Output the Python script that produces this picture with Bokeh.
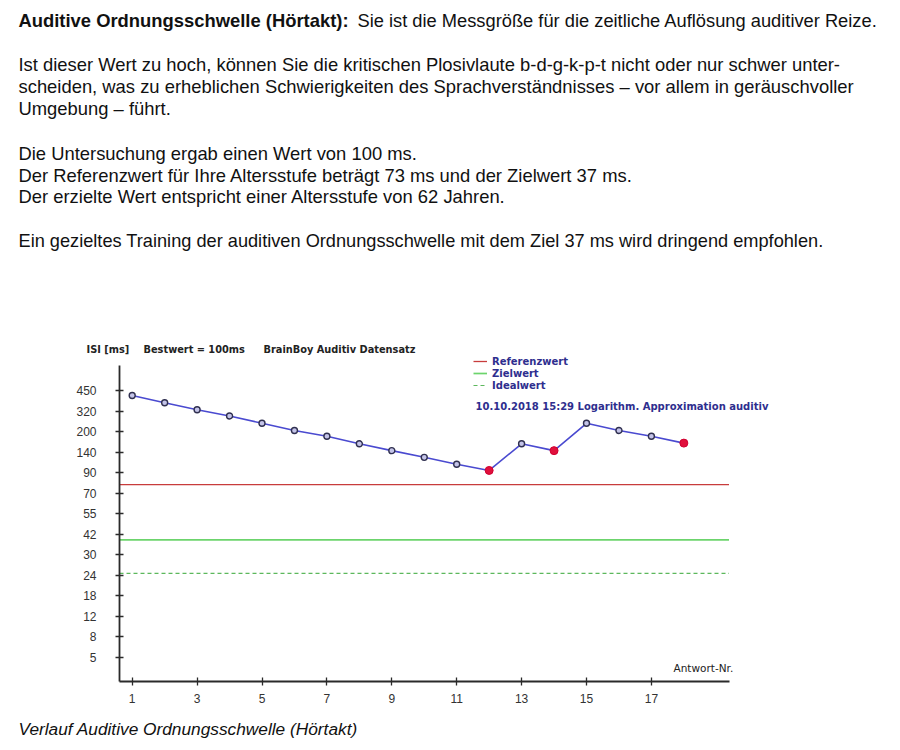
import numpy as np
from bokeh.plotting import figure
from bokeh.models import Range1d, FixedTicker, Label, Legend, LegendItem, LinearAxis
from bokeh.embed import file_html
from bokeh.resources import INLINE

# ---------------- data ----------------
answer_nr = list(range(1, 19))
isi_ms = [418, 372, 328, 291, 248, 206, 186, 164, 144, 127, 110, 95,
          164, 144, 248, 206, 186, 166]
red_answers = [12, 14, 18]
referenz_ms = 78.2
ziel_ms = 38.6
ideal_ms = 24.5
y_tick_ms = [5, 8, 12, 18, 24, 30, 42, 55, 70, 90, 140, 200, 320, 450]
x_ticks = [1, 3, 5, 7, 9, 11, 13, 15, 17]

intro_bold = "Auditive Ordnungsschwelle (Hörtakt):"
intro_rest = "Sie ist die Messgröße für die zeitliche Auflösung auditiver Reize."
paragraph = [
    "Ist dieser Wert zu hoch, können Sie die kritischen Plosivlaute b-d-g-k-p-t nicht oder nur schwer unter-",
    "scheiden, was zu erheblichen Schwierigkeiten des Sprachverständnisses – vor allem in geräuschvoller",
    "Umgebung – führt.",
]
result_lines = [
    "Die Untersuchung ergab einen Wert von 100 ms.",
    "Der Referenzwert für Ihre Altersstufe beträgt 73 ms und der Zielwert 37 ms.",
    "Der erzielte Wert entspricht einer Altersstufe von 62 Jahren.",
]
recommendation = "Ein gezieltes Training der auditiven Ordnungsschwelle mit dem Ziel 37 ms wird dringend empfohlen."
caption = "Verlauf Auditive Ordnungsschwelle (Hörtakt)"
header_texts = ["ISI [ms]", "Bestwert = 100ms", "BrainBoy Auditiv Datensatz"]
legend_labels = ["Referenzwert", "Zielwert", "Idealwert"]
session_text = "10.10.2018 15:29 Logarithm. Approximation auditiv"
x_title = "Antwort-Nr."


# piecewise scale of the original chart: equally spaced labelled ticks
def ypos(ms):
    return np.interp(ms, y_tick_ms, np.arange(len(y_tick_ms)))


# ---------------- geometry (page pixels) ----------------
W, H = 900, 750
AX_X, AX_Y = 119, 681                 # page position of the axis lines
X1_PX, X_STEP = 131.7, 32.45          # answer 1 position, px per answer
Y0_PX, Y_STEP = 656.5, 20.5           # first tick position, px per tick


def xd(px):
    return 1 + (px - X1_PX) / X_STEP


def yd(py):
    return (Y0_PX - py) / Y_STEP


p = figure(width=W, height=H, output_backend="svg", toolbar_location=None,
           x_range=Range1d(xd(0), xd(W)), y_range=Range1d(yd(H), yd(0)),
           min_border=0, x_axis_type=None, y_axis_type=None)
p.outline_line_color = None
p.background_fill_color = "white"
p.border_fill_color = "white"
p.xgrid.visible = False
p.ygrid.visible = False

xb = (xd(AX_X), xd(728.5))
yb = (yd(AX_Y), yd(365))

xaxis = LinearAxis(ticker=FixedTicker(ticks=x_ticks), bounds=xb,
                   fixed_location=yd(AX_Y))
yaxis = LinearAxis(ticker=FixedTicker(ticks=list(range(len(y_tick_ms)))), bounds=yb,
                   fixed_location=xd(AX_X),
                   major_label_overrides={i: str(v) for i, v in enumerate(y_tick_ms)})
for ax in (xaxis, yaxis):
    ax.axis_line_color = "#2a2a2a"
    ax.axis_line_width = 1.8
    ax.major_tick_line_color = "#2a2a2a"
    ax.major_tick_line_width = 1.3
    ax.major_tick_in = 4
    ax.major_tick_out = 4
    ax.minor_tick_line_color = None
    ax.major_label_text_font = "Liberation Sans"
    ax.major_label_text_font_size = "12px"
    ax.major_label_text_color = "#333333"
xaxis.major_label_standoff = 8
yaxis.major_label_standoff = 19
p.add_layout(xaxis, "below")
p.add_layout(yaxis, "left")

# reference lines
r_ref = p.segment(x0=[xb[0]], x1=[xb[1]], y0=[ypos(referenz_ms)], y1=[ypos(referenz_ms)],
                  line_color="#c83c3c", line_width=1.3)
r_ziel = p.segment(x0=[xb[0]], x1=[xb[1]], y0=[ypos(ziel_ms)], y1=[ypos(ziel_ms)],
                   line_color="#6cd46c", line_width=1.7)
r_ideal = p.segment(x0=[xb[0]], x1=[xb[1]], y0=[ypos(ideal_ms)], y1=[ypos(ideal_ms)],
                    line_color="#5cb85c", line_width=1.2, line_dash="4 3")

# data line and markers
yvals = ypos(isi_ms)
p.line(answer_nr, yvals, line_color="#4a4ad0", line_width=1.6)
norm_x = [a for a in answer_nr if a not in red_answers]
norm_y = [ypos(v) for a, v in zip(answer_nr, isi_ms) if a not in red_answers]
red_x = [a for a in answer_nr if a in red_answers]
red_y = [ypos(v) for a, v in zip(answer_nr, isi_ms) if a in red_answers]
p.scatter(norm_x, norm_y, size=6, marker="circle", fill_color="#c4c4e8",
          line_color="#303050", line_width=1.4)
p.scatter(red_x, red_y, size=8, marker="circle", fill_color="#e0103c",
          line_color="#d00030", line_width=1)

legend = Legend(items=[LegendItem(label=legend_labels[0], renderers=[r_ref]),
                       LegendItem(label=legend_labels[1], renderers=[r_ziel]),
                       LegendItem(label=legend_labels[2], renderers=[r_ideal])],
                location=(473, H - 391),
                padding=0, margin=0, spacing=0, glyph_width=14, glyph_height=12,
                label_height=12, label_standoff=5, border_line_alpha=0,
                background_fill_alpha=0, label_text_font="DejaVu Sans",
                label_text_font_size="10px", label_text_font_style="bold",
                label_text_color="#2e2e8e", label_text_baseline="middle")
p.add_layout(legend)


def add_text(text, px, py, size, font="Liberation Sans", style="normal",
             color="#111111"):
    p.add_layout(Label(x=px, y=H - py, x_units="screen", y_units="screen",
                       text=text, text_font=font, text_font_size=size,
                       text_font_style=style, text_color=color,
                       text_baseline="middle", text_align="left"))


TOP = "18.4px"
add_text(intro_bold, 18, 20, "18.4px", style="bold")
add_text(intro_rest, 357, 20, "18.3px")
for i, t in enumerate(paragraph):
    add_text(t, 18, 64 + 22 * i, TOP)
for i, t in enumerate(result_lines):
    add_text(t, 18, 153 + 21.7 * i, TOP)
add_text(recommendation, 18, 240, "18.2px")
add_text(caption, 18, 728, "17.3px", style="italic")

for t, px in zip(header_texts, [86, 143, 263]):
    add_text(t, px, 349, "9.8px", font="DejaVu Sans", style="bold", color="#222222")
add_text(session_text, 475, 406, "10px", font="DejaVu Sans", style="bold",
         color="#2e2e8e")
add_text(x_title, 673, 667, "10.5px", font="DejaVu Sans", color="#222222")

open("out.html", "w").write(file_html(p, INLINE))
